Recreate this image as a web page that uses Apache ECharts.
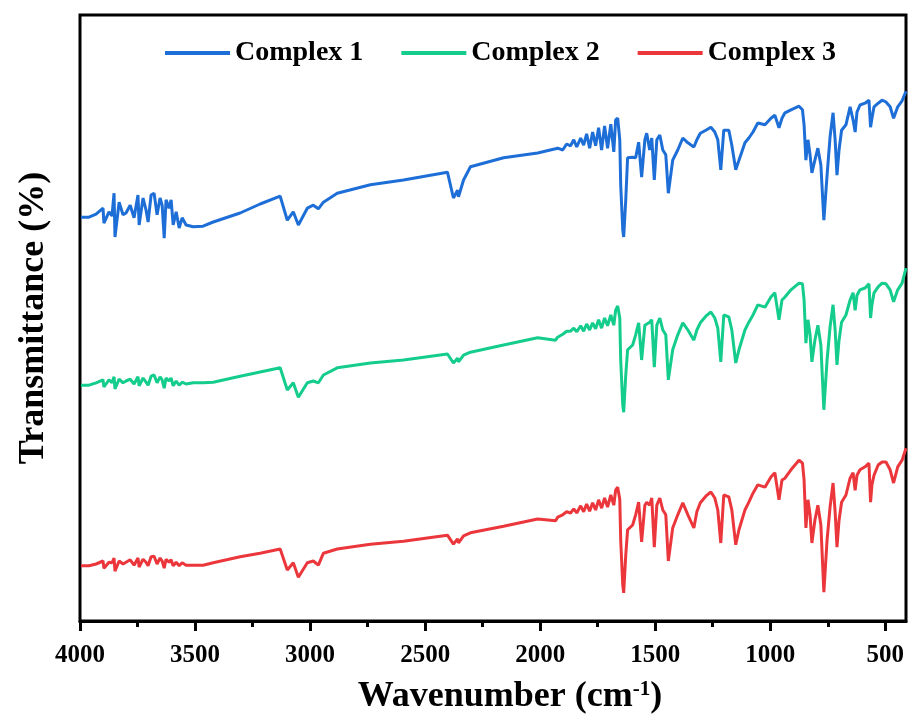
<!DOCTYPE html>
<html>
<head>
<meta charset="utf-8">
<script src="https://cdn.jsdelivr.net/npm/echarts@6/dist/echarts.min.js"></script>
<style>
  html, body { margin: 0; padding: 0; background: #fff; }
  #chart { width: 914px; height: 718px; }
</style>
</head>
<body>
<div id="chart"></div>
<script>
// wavenumber grid (cm-1)
var wavenumber = [3996, 3961, 3930, 3900, 3896, 3874, 3861, 3852, 3848, 3830,
  3813, 3800, 3782, 3765, 3748, 3743, 3726, 3713, 3704, 3691,
  3678, 3665, 3652, 3643, 3634, 3626, 3613, 3604, 3595, 3582,
  3569, 3556, 3539, 3508, 3465, 3421, 3304, 3217, 3130, 3099,
  3073, 3051, 3012, 2986, 2964, 2942, 2882, 2738, 2594, 2403,
  2377, 2359, 2355, 2333, 2303, 2159, 2011, 1933, 1924, 1902,
  1885, 1868, 1854, 1841, 1824, 1811, 1798, 1785, 1772, 1759,
  1746, 1733, 1720, 1707, 1693, 1680, 1672, 1663, 1654, 1650,
  1641, 1637, 1628, 1620, 1598, 1585, 1572, 1559, 1545, 1537,
  1524, 1515, 1504, 1493, 1480, 1467, 1454, 1443, 1424, 1402,
  1380, 1358, 1332, 1319, 1304, 1280, 1258, 1241, 1228, 1215,
  1202, 1180, 1167, 1150, 1136, 1110, 1093, 1075, 1054, 1023,
  997, 980, 962, 949, 936, 910, 875, 860, 853, 845,
  836, 827, 819, 806, 793, 780, 767, 753, 740, 727,
  718, 710, 701, 690, 671, 653, 640, 631, 623, 610,
  588, 571, 564, 558, 549, 531, 514, 497, 479, 464,
  446, 427, 410];

// transmittance (offset, arbitrary units)
var complex1 = [67.3, 67.3, 67.8, 68.8, 66.3, 68.2, 67.5, 71.3, 64.0, 69.8,
  67.7, 68.0, 69.3, 67.2, 71.0, 66.0, 70.5, 68.5, 66.5, 71.0,
  71.3, 67.7, 70.5, 69.3, 63.8, 70.2, 68.8, 70.2, 66.0, 68.2,
  65.5, 67.2, 66.0, 65.7, 65.8, 66.5, 68.0, 69.5, 70.8, 66.8,
  68.2, 66.0, 68.8, 69.3, 68.7, 69.8, 71.3, 72.7, 73.5, 74.8,
  70.5, 71.8, 70.7, 73.5, 75.7, 77.2, 78.0, 78.7, 78.8, 78.5,
  79.5, 79.2, 80.2, 79.0, 80.5, 79.3, 81.2, 78.8, 81.5, 79.2,
  82.2, 78.5, 82.5, 78.8, 82.8, 78.2, 83.5, 83.8, 80.2, 72.7,
  65.2, 64.0, 70.2, 77.2, 77.3, 77.2, 79.8, 74.0, 80.2, 81.3,
  78.5, 80.5, 73.5, 80.2, 81.0, 78.5, 77.7, 71.3, 76.8, 78.5,
  80.5, 79.7, 79.0, 80.2, 81.3, 81.8, 82.3, 81.5, 80.2, 75.2,
  81.8, 81.8, 79.3, 75.2, 76.8, 79.7, 80.5, 81.5, 83.0, 82.7,
  83.8, 84.3, 82.2, 83.8, 84.7, 85.2, 85.8, 85.2, 82.7, 76.8,
  80.2, 77.7, 74.7, 76.8, 78.8, 76.0, 66.8, 74.3, 80.7, 84.7,
  80.2, 74.3, 78.5, 81.8, 82.7, 85.7, 83.5, 81.5, 84.8, 86.0,
  86.3, 86.8, 82.3, 83.8, 85.7, 86.3, 86.8, 86.5, 85.7, 83.8,
  85.7, 86.7, 88.3];

var complex2 = [39.3, 39.3, 39.7, 40.2, 39.0, 40.2, 39.7, 40.7, 38.7, 40.3,
  39.7, 40.0, 40.3, 39.5, 40.7, 39.2, 40.5, 39.8, 39.3, 40.8,
  41.0, 39.7, 40.7, 40.2, 38.8, 40.5, 40.0, 40.5, 39.2, 40.0,
  39.3, 39.8, 39.5, 39.7, 39.7, 39.8, 40.8, 41.5, 42.2, 38.5,
  39.7, 37.3, 39.7, 40.0, 39.7, 41.0, 42.2, 43.0, 43.5, 44.5,
  43.0, 43.8, 43.2, 44.3, 44.8, 46.0, 47.2, 46.8, 47.3, 47.8,
  48.3, 48.3, 48.8, 48.2, 49.2, 48.3, 49.5, 48.5, 49.7, 48.7,
  50.2, 48.8, 50.5, 49.2, 51.0, 49.3, 51.8, 52.5, 50.5, 43.5,
  36.0, 34.8, 41.0, 45.2, 46.0, 47.7, 49.7, 43.5, 49.3, 49.3,
  49.8, 50.2, 42.3, 49.3, 50.5, 48.5, 47.7, 40.2, 45.2, 47.7,
  49.7, 48.5, 46.8, 48.5, 49.7, 50.8, 51.5, 50.5, 48.8, 43.2,
  51.0, 50.7, 48.5, 43.0, 45.2, 48.5, 49.8, 51.0, 52.7, 52.3,
  54.0, 54.7, 50.2, 53.5, 54.0, 55.2, 56.3, 56.2, 53.5, 46.3,
  50.2, 47.7, 43.2, 46.8, 49.3, 46.0, 35.2, 43.5, 49.0, 52.7,
  48.5, 42.7, 46.8, 49.8, 51.0, 53.5, 54.7, 51.8, 54.3, 55.2,
  55.5, 56.2, 50.5, 52.7, 54.7, 55.7, 56.3, 56.2, 55.2, 53.2,
  55.2, 56.3, 58.8];

var complex3 = [9.2, 9.2, 9.5, 10.0, 8.8, 9.8, 9.7, 10.5, 8.3, 10.0,
  9.5, 9.8, 10.2, 9.3, 10.5, 9.0, 10.3, 9.8, 9.2, 10.7,
  10.8, 9.5, 10.5, 10.0, 8.8, 10.3, 9.8, 10.2, 9.2, 9.8,
  9.2, 9.7, 9.3, 9.3, 9.3, 9.7, 10.7, 11.3, 12.0, 8.5,
  9.7, 7.3, 9.7, 10.0, 9.3, 11.3, 12.0, 12.8, 13.3, 14.3,
  12.8, 13.7, 13.0, 14.2, 14.7, 15.8, 17.0, 16.7, 17.3, 17.7,
  18.2, 18.0, 18.7, 18.0, 19.2, 18.2, 19.5, 18.3, 19.7, 18.5,
  20.2, 18.8, 20.5, 19.0, 21.0, 19.3, 21.8, 22.3, 20.3, 13.5,
  6.0, 4.7, 11.0, 15.2, 16.0, 17.7, 19.8, 13.2, 19.3, 19.8,
  19.3, 20.5, 12.3, 19.3, 20.5, 18.5, 17.7, 10.0, 15.5, 17.7,
  19.7, 17.7, 15.5, 18.2, 19.7, 20.8, 21.5, 20.5, 18.5, 13.0,
  21.0, 20.7, 18.5, 12.7, 15.2, 18.5, 19.8, 21.3, 22.7, 22.3,
  24.0, 24.7, 20.2, 23.5, 23.8, 25.2, 26.8, 26.3, 23.5, 15.5,
  20.2, 17.7, 13.0, 16.8, 19.3, 16.0, 4.8, 13.5, 19.0, 23.0,
  18.2, 12.3, 16.8, 19.8, 21.0, 23.8, 24.7, 21.8, 24.3, 25.2,
  25.7, 26.3, 19.8, 22.7, 24.3, 26.0, 26.5, 26.5, 25.2, 23.0,
  25.7, 26.8, 28.8];

var seriesNames = ['Complex 1', 'Complex 2', 'Complex 3'];
var seriesColors = ['#1e6ed7', '#14cd8c', '#eb373c'];
var majorTicks = [4000, 3500, 3000, 2500, 2000, 1500, 1000, 500];
var minorTicks = [3750, 3250, 2750, 2250, 1750, 1250, 750];

var font = "'Liberation Serif', 'Times New Roman', serif";

function pairs(vals) {
  return wavenumber.map(function (w, i) { return [w, vals[i]]; });
}

var allValues = [complex1, complex2, complex3];

var option = {
  backgroundColor: '#fff',
  animation: false,
  legend: {
    top: 34,
    left: 160,
    icon: 'rect',
    itemWidth: 65,
    itemHeight: 4,
    itemGap: 38,
    textStyle: { fontFamily: font, fontWeight: 'bold', fontSize: 28, color: '#000' },
    data: seriesNames
  },
  grid: {
    left: 80, right: 8, top: 15, bottom: 97,
    outerBoundsMode: 'none',
    show: true, borderColor: '#000', borderWidth: 3
  },
  xAxis: [{
    type: 'value',
    inverse: true,
    min: 410,
    max: 4000,
    axisLine: { lineStyle: { color: '#000', width: 3 } },
    axisTick: { customValues: majorTicks, length: 10, lineStyle: { color: '#000', width: 3 } },
    axisLabel: {
      customValues: majorTicks,
      formatter: function (v) { return String(v); },
      fontFamily: font, fontWeight: 'bold', fontSize: 25, color: '#000', margin: 22
    },
    splitLine: { show: false },
    name: '{t|Wavenumber (cm}{s|-1}{t|)}',
    nameLocation: 'middle',
    nameGap: 58,
    nameTextStyle: {
      color: '#000',
      padding: [0, 0, 0, 34],
      rich: {
        t: { fontFamily: font, fontWeight: 'bold', fontSize: 36, color: '#000' },
        s: { fontFamily: font, fontWeight: 'bold', fontSize: 21, color: '#000', verticalAlign: 'top' }
      }
    }
  }, {
    type: 'value',
    inverse: true,
    min: 410,
    max: 4000,
    position: 'bottom',
    axisLine: { show: false },
    axisTick: { customValues: minorTicks, length: 6, lineStyle: { color: '#000', width: 3 } },
    axisLabel: { show: false },
    splitLine: { show: false }
  }],
  yAxis: {
    type: 'value',
    min: 0,
    max: 101,
    axisLine: { show: false },
    axisTick: { show: false },
    axisLabel: { show: false },
    splitLine: { show: false },
    name: 'Transmittance (%)',
    nameLocation: 'middle',
    nameGap: 28,
    nameTextStyle: { fontFamily: font, fontWeight: 'bold', fontSize: 36, color: '#000' }
  },
  series: seriesNames.map(function (n, k) {
    return {
      name: n,
      type: 'line',
      xAxisIndex: 0,
      data: pairs(allValues[k]),
      showSymbol: false,
      symbol: 'none',
      color: seriesColors[k],
      lineStyle: { width: 3, color: seriesColors[k] }
    };
  })
};

var chart = echarts.init(document.getElementById('chart'));
chart.setOption(option);
</script>
</body>
</html>
